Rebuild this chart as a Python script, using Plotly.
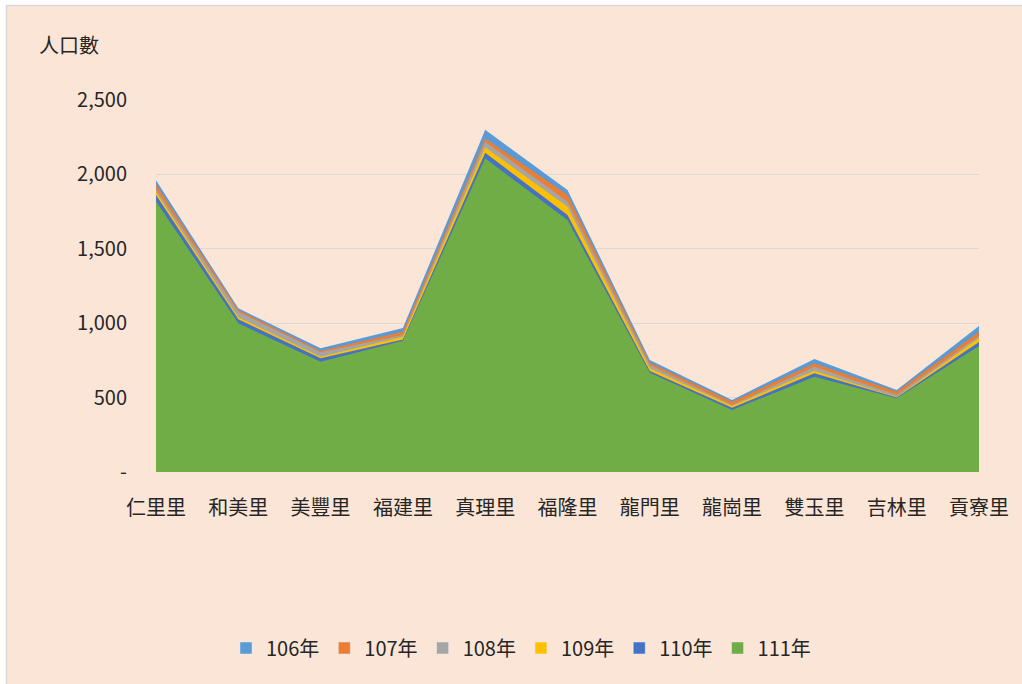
import plotly.graph_objects as go

categories = ["仁里里", "和美里", "美豐里", "福建里", "真理里", "福隆里", "龍門里", "龍崗里", "雙玉里", "吉林里", "貢寮里"]
years = ["106年", "107年", "108年", "109年", "110年", "111年"]
v106 = [1960, 1100, 831, 968, 2300, 1895, 753, 484, 759, 551, 981]
v107 = [1932, 1089, 813, 943, 2242, 1861, 735, 472, 730, 540, 941]
v108 = [1900, 1077, 804, 920, 2220, 1817, 719, 450, 708, 517, 914]
v109 = [1882, 1040, 775, 909, 2182, 1783, 697, 444, 681, 502, 900]
v110 = [1862, 1026, 764, 890, 2146, 1727, 679, 432, 663, 500, 874]
v111 = [1820, 999, 741, 882, 2108, 1693, 667, 417, 640, 495, 847]
series = [v106, v107, v108, v109, v110, v111]
colors = ["#5B9BD5", "#ED7D31", "#A5A5A5", "#FFC000", "#4472C4", "#70AD47"]
tick_vals = [0, 500, 1000, 1500, 2000, 2500]
tick_text = ["-", "500", "1,000", "1,500", "2,000", "2,500"]

FONT = "Noto Sans CJK TC"
TXT = "#262626"
W, H = 1022, 684
L, R, T, B = 156, 43, 100, 212
pw, ph = W - L - R, H - T - B

def px_x(x):
    return (x - L) / pw

def px_y(y):
    return (H - B - y) / ph

fig = go.Figure()
for name, vals, c in zip(years, series, colors):
    fig.add_trace(go.Scatter(
        x=categories, y=vals, name=name, mode="none",
        fill="tozeroy", fillcolor=c, legendgroup=name, showlegend=False,
    ))
# legend entries with square swatches
for name, c in zip(years, colors):
    fig.add_trace(go.Bar(x=[None], y=[None], name=name, marker=dict(color=c),
                         legendgroup=name, showlegend=True))

fig.update_layout(
    width=W, height=H,
    paper_bgcolor="#FFFFFF", plot_bgcolor="rgba(0,0,0,0)",
    margin=dict(l=L, r=R, t=T, b=B, autoexpand=False),
    font=dict(family=FONT, size=20, color=TXT),
    showlegend=True,
    legend=dict(orientation="h", x=px_x(521), xanchor="center",
                y=px_y(648), yanchor="middle",
                font=dict(family=FONT, size=20, color=TXT), traceorder="normal",
                bgcolor="rgba(0,0,0,0)", itemwidth=30),
)
fig.add_shape(type="rect", xref="paper", yref="paper",
              x0=px_x(6.5), x1=px_x(1030), y0=px_y(700), y1=px_y(5.5),
              line=dict(color="#D9D9D9", width=1.5), fillcolor="#FBE5D6", layer="below")
fig.add_annotation(text="人口數", xref="paper", yref="paper",
                   x=px_x(37), y=px_y(45), xanchor="left", yanchor="middle",
                   showarrow=False, font=dict(family=FONT, size=20, color=TXT))
fig.update_xaxes(showgrid=False, showline=False, ticks="", tickfont=dict(size=20, color=TXT),
                 range=[0, 10], ticklabelstandoff=22, tickangle=0)
fig.update_yaxes(range=[0, 2500], tickvals=tick_vals, ticktext=tick_text,
                 showgrid=True, gridcolor="#D9D9D9", gridwidth=1.3,
                 zeroline=False, showline=False, ticks="", tickfont=dict(size=20, color=TXT),
                 ticklabelstandoff=28, layer="below traces")
fig.write_html("out.html", config={"displayModeBar": False},
               post_script="document.body.style.margin='0';document.body.style.padding='0';")
